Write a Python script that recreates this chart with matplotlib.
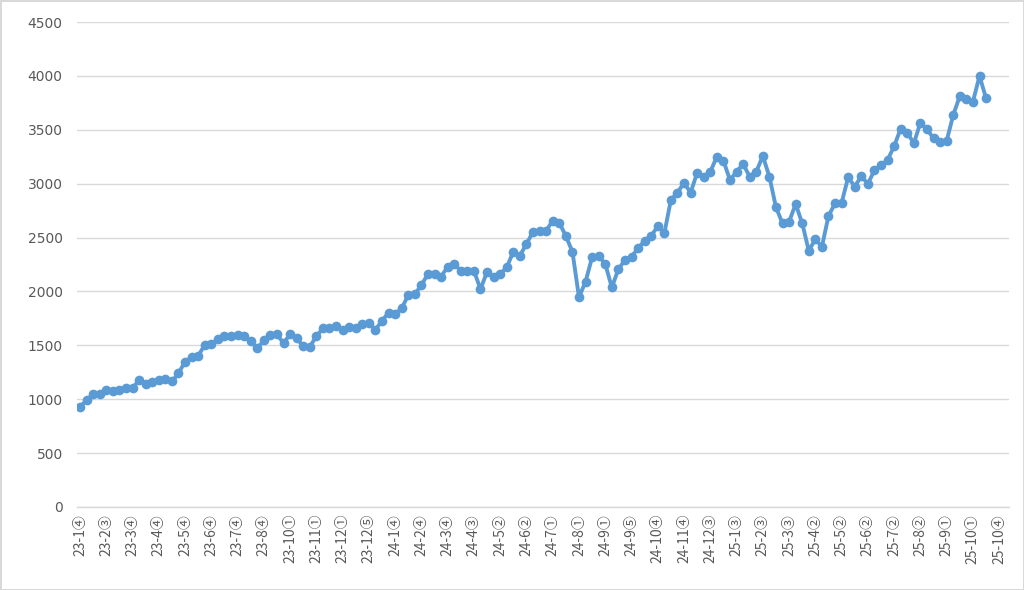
"""Weekly line chart with circled week-number category labels."""

import matplotlib

matplotlib.use("Agg")

import matplotlib.pyplot as plt  # noqa: E402
import numpy as np  # noqa: E402


VALUES = [
    930, 990, 1045, 1048, 1085, 1075, 1090, 1108, 1100, 1180,
    1140, 1160, 1175, 1190, 1165, 1240, 1348, 1390, 1402, 1503,
    1512, 1556, 1582, 1585, 1595, 1582, 1543, 1472, 1545, 1592,
    1605, 1518, 1605, 1570, 1490, 1487, 1583, 1658, 1658, 1679,
    1642, 1673, 1662, 1698, 1708, 1645, 1728, 1803, 1791, 1843,
    1967, 1973, 2060, 2162, 2162, 2137, 2230, 2255, 2192, 2192,
    2192, 2020, 2183, 2131, 2162, 2224, 2369, 2333, 2440, 2554,
    2564, 2564, 2656, 2638, 2514, 2369, 1946, 2091, 2317, 2329,
    2255, 2038, 2205, 2292, 2323, 2400, 2471, 2514, 2607, 2539,
    2850, 2916, 3009, 2916, 3102, 3065, 3111, 3250, 3213, 3034,
    3111, 3182, 3065, 3111, 3257, 3065, 2781, 2632, 2647, 2811,
    2632, 2378, 2484, 2415, 2700, 2818, 2823, 3059, 2972, 3071,
    2997, 3127, 3173, 3219, 3349, 3510, 3473, 3374, 3566, 3504,
    3421, 3389, 3398, 3637, 3813, 3783, 3760, 3999, 3792,
]
N_CATEGORIES = 142
TICK_LABELS = [
    "23-1④", "23-2③", "23-3④", "23-4④", "23-5④", "23-6④",
    "23-7④", "23-8④", "23-10①", "23-11①", "23-12①", "23-12⑤",
    "24-1④", "24-2④", "24-3④", "24-4③", "24-5②", "24-6②",
    "24-7①", "24-8①", "24-9①", "24-9⑤", "24-10④", "24-11④",
    "24-12③", "25-1③", "25-2③", "25-3③", "25-4②", "25-5②",
    "25-6②", "25-7②", "25-8②", "25-9①", "25-10①", "25-10④",
]
Y_TICKS = list(range(0, 4501, 500))

LINE_COLOR = "#5B9BD5"
GRID_COLOR = "#D9D9D9"
TEXT_COLOR = "#595959"
X_FONTS = ["Noto Sans CJK JP", "DejaVu Sans"]
Y_FONTS = ["DejaVu Sans"]


def main() -> None:
    fig = plt.figure(figsize=(10.24, 5.9), dpi=100)
    fig.patch.set_edgecolor(GRID_COLOR)
    fig.patch.set_linewidth(2)
    ax = fig.add_axes([0.0749, 0.1407, 0.9105, 0.822])

    x = np.arange(len(VALUES))
    ax.plot(
        x,
        VALUES,
        color=LINE_COLOR,
        linewidth=2.8,
        marker="o",
        markersize=7,
        markeredgewidth=0,
        solid_joinstyle="round",
    )

    ax.set_xlim(-0.5, N_CATEGORIES - 0.5)
    ax.set_ylim(0, 4500)
    ax.set_yticks(Y_TICKS)
    ax.set_yticklabels([str(v) for v in Y_TICKS], fontsize=10, color=TEXT_COLOR,
                       family=Y_FONTS)
    ax.set_xticks(np.arange(0, 4 * len(TICK_LABELS), 4))
    ax.set_xticklabels(TICK_LABELS, rotation=90, fontsize=10, color=TEXT_COLOR,
                       family=X_FONTS)

    ax.grid(axis="y", color=GRID_COLOR, linewidth=1)
    ax.set_axisbelow(True)
    for side in ("top", "right", "left"):
        ax.spines[side].set_visible(False)
    ax.spines["bottom"].set_color(GRID_COLOR)
    ax.spines["bottom"].set_linewidth(1)
    ax.tick_params(axis="both", length=0)
    ax.tick_params(axis="x", pad=5)
    ax.tick_params(axis="y", pad=10)

    fig.savefig("out.png", dpi=100, facecolor="white")
    plt.close(fig)


if __name__ == "__main__":
    main()
